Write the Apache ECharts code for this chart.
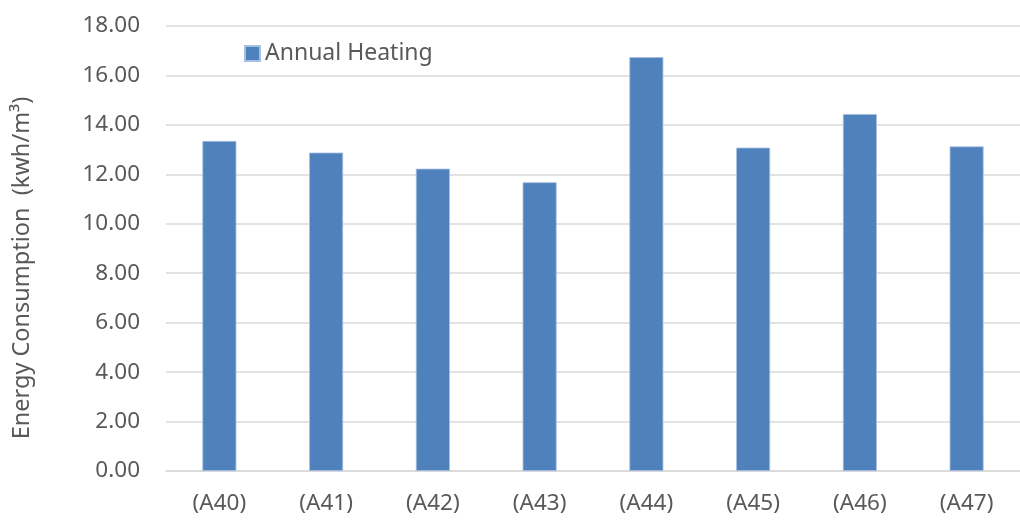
<!DOCTYPE html>
<html>
<head>
<meta charset="utf-8">
<script src="https://cdn.jsdelivr.net/npm/echarts@6/dist/echarts.min.js"></script>
<style>
  html, body { margin: 0; padding: 0; background: #ffffff; }
  #chart { width: 1020px; height: 521px; }
</style>
</head>
<body>
<div id="chart"></div>
<script>
// Annual heating energy use per building variant
const categories = ['(A40)', '(A41)', '(A42)', '(A43)', '(A44)', '(A45)', '(A46)', '(A47)'];
const annualHeating = [13.35, 12.88, 12.23, 11.68, 16.74, 13.08, 14.44, 13.13];
const seriesName = 'Annual Heating';
const yAxisTitle = 'Energy Consumption  (kwh/m\u00B3)';

const FONT = '"Noto Sans", "Open Sans", sans-serif';
const TEXT = '#595959';
const GRID = '#d9d9d9';

const chart = echarts.init(document.getElementById('chart'), null, { renderer: 'canvas' });
chart.setOption({
  animation: false,
  backgroundColor: '#ffffff',
  textStyle: { fontFamily: FONT, color: TEXT },
  grid: { left: 166, right: -8, top: 26, bottom: 50, containLabel: false },
  legend: {
    data: [seriesName],
    left: 239,
    top: 37,
    icon: 'rect',
    itemWidth: 15,
    itemHeight: 15,
    itemGap: 6,
    textStyle: { fontFamily: FONT, fontSize: 23, color: TEXT }
  },
  xAxis: {
    type: 'category',
    data: categories,
    axisLine: { show: true, lineStyle: { color: GRID, width: 1.5 } },
    axisTick: { show: false },
    axisLabel: { fontFamily: FONT, fontSize: 22.5, color: TEXT, margin: 21 }
  },
  yAxis: {
    type: 'value',
    min: 0,
    max: 18,
    interval: 2,
    axisLine: { show: false },
    axisTick: { show: false },
    axisLabel: {
      fontFamily: FONT, fontSize: 22.5, color: TEXT, margin: 26,
      formatter: v => v.toFixed(2)
    },
    splitLine: { lineStyle: { color: GRID, width: 1.5 } }
  },
  // vertical axis title, set beside the tick labels
  graphic: [{
    type: 'text',
    x: 22,
    y: 268,
    rotation: Math.PI / 2,
    style: {
      text: yAxisTitle,
      font: '23.5px ' + FONT,
      fill: TEXT,
      align: 'center',
      verticalAlign: 'middle'
    }
  }],
  series: [{
    name: seriesName,
    type: 'bar',
    data: annualHeating,
    barWidth: 34,
    itemStyle: { color: '#4f81bd', borderColor: '#a7c0e2', borderWidth: 0.8 }
  }]
});
</script>
</body>
</html>
